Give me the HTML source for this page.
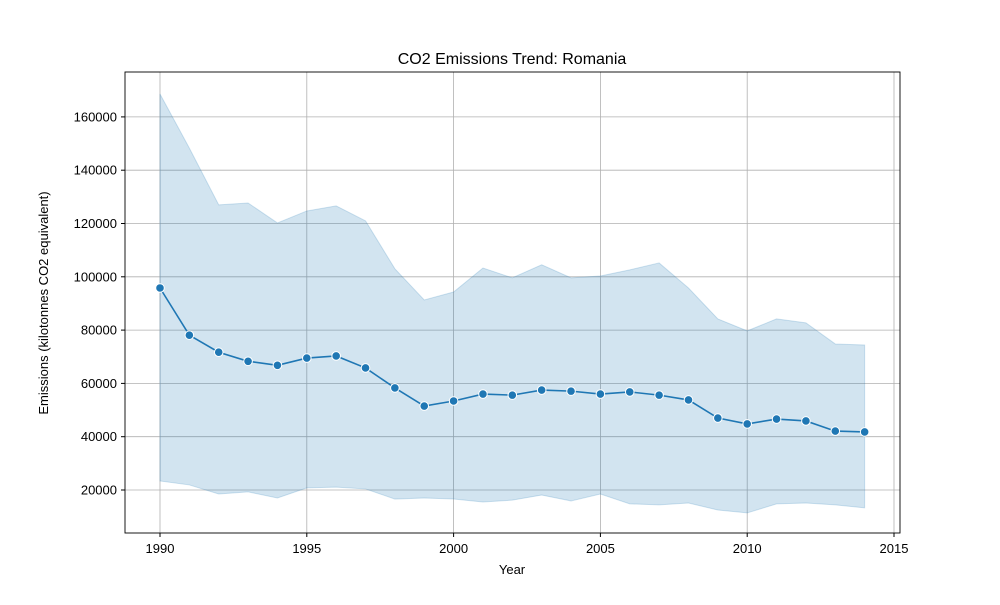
<!DOCTYPE html>
<html><head><meta charset="utf-8"><style>
body{margin:0;background:#fff;font-family:"Liberation Sans",sans-serif}
</style></head><body>
<svg id="chart" width="1000" height="600" xmlns="http://www.w3.org/2000/svg">
<rect width="1000" height="600" fill="#fff"/>
<g id="grid"></g>
<path id="band" fill="#1f77b4" fill-opacity="0.2" stroke="#1f77b4" stroke-opacity="0.2"/>
<path id="line" fill="none" stroke="#1f77b4" stroke-width="1.6"/>
<g id="pts"></g>
<rect x="125" y="72" width="775" height="461" fill="none" stroke="#000" stroke-width="0.9"/>
<g id="ticks" font-size="13"></g>
<text x="512" y="64" text-anchor="middle" font-size="16">CO2 Emissions Trend: Romania</text>
<text x="512" y="574" text-anchor="middle" font-size="13">Year</text>
<text transform="translate(48,303) rotate(-90)" text-anchor="middle" font-size="13">Emissions (kilotonnes CO2 equivalent)</text>
</svg>
<script>
const years=[1990,1991,1992,1993,1994,1995,1996,1997,1998,1999,2000,2001,2002,2003,2004,2005,2006,2007,2008,2009,2010,2011,2012,2013,2014];
const meanVals=[95800,78100,71700,68300,66800,69500,70300,65800,58300,51500,53400,56000,55600,57500,57100,56000,56800,55600,53800,47000,44800,46600,45900,42100,41800];
const upperVals=[168600,148300,127000,127700,120200,124700,126600,121000,103000,91300,94300,103300,99600,104500,99600,100300,102600,105200,95800,84200,79700,84200,82700,74800,74400];
const lowerVals=[23400,21900,18500,19300,17000,20800,21100,20400,16600,17000,16600,15500,16200,18100,15900,18500,14800,14400,15100,12500,11400,14800,15100,14400,13300];
const xTicks=[1990,1995,2000,2005,2010,2015];
const yTicks=[20000,40000,60000,80000,100000,120000,140000,160000];
const X=v=>160+(v-1990)*(894-160)/25;
const Y=v=>543.3-v*26.65/10000;
const NS="http://www.w3.org/2000/svg";
const grid=document.getElementById('grid'),ticks=document.getElementById('ticks'),pts=document.getElementById('pts');
function mk(t,a,p){const e=document.createElementNS(NS,t);for(const k in a)e.setAttribute(k,a[k]);p.appendChild(e);return e;}
xTicks.forEach(t=>{const x=X(t);
const g=mk('line',{x1:x,x2:x,y1:72,y2:533,stroke:'#b0b0b0','stroke-width':0.8},grid);


mk('line',{x1:x,x2:x,y1:533,y2:537,stroke:'#000'},ticks);
const l=mk('text',{x:x,y:553,'text-anchor':'middle'},ticks);l.textContent=t;

});
yTicks.forEach(t=>{const y=Y(t);
const g=mk('line',{x1:125,x2:900,y1:y,y2:y,stroke:'#b0b0b0','stroke-width':0.8},grid);


mk('line',{x1:121,x2:125,y1:y,y2:y,stroke:'#000'},ticks);
const l=mk('text',{x:117,y:y+4.5,'text-anchor':'end'},ticks);l.textContent=t;

});
let d='';years.forEach((yr,i)=>d+=(i?'L':'M')+X(yr)+','+Y(upperVals[i]));
for(let i=years.length-1;i>=0;i--)d+='L'+X(years[i])+','+Y(lowerVals[i]);
document.getElementById('band').setAttribute('d',d+'Z');
let l='';years.forEach((yr,i)=>l+=(i?'L':'M')+X(yr)+','+Y(meanVals[i]));
document.getElementById('line').setAttribute('d',l);
years.forEach((yr,i)=>{const c=mk('circle',{cx:X(yr),cy:Y(meanVals[i]),r:4.3,fill:'#1f77b4',stroke:'#fff','stroke-width':1},pts);

});
</script>
</body></html>
